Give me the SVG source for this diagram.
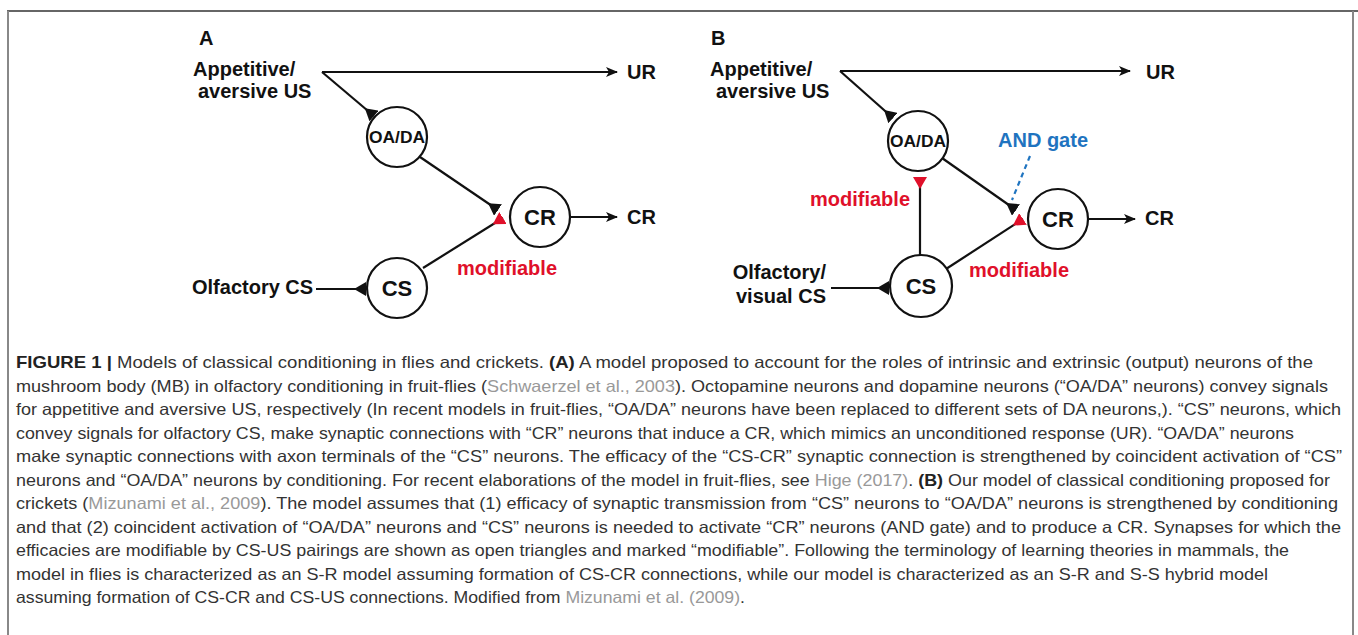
<svg xmlns="http://www.w3.org/2000/svg" width="1358" height="635" viewBox="0 0 1358 635">
<style>
.lbl{font-family:"Liberation Sans",Arial,sans-serif;font-weight:bold;font-size:20px;fill:#111}
.red{fill:#e0102a}
.blue{fill:#1f74c0}
.node{fill:#fff;stroke:#111;stroke-width:2.2}
.ntx{font-family:"Liberation Sans",Arial,sans-serif;font-weight:bold;font-size:22px;fill:#111;text-anchor:middle}
.ln{stroke:#111;stroke-width:2.2;fill:none}
.cap{font-family:"Liberation Sans",Arial,sans-serif;font-size:16.5px;fill:#333}
.ref{fill:#999}
.b{font-weight:bold;fill:#222}
</style>
<defs>
<marker id="arr" viewBox="0 0 12 10" refX="11" refY="5" markerWidth="12" markerHeight="10" markerUnits="userSpaceOnUse" orient="auto">
<path d="M0,0 L12,5 L0,10 L3,5 z" fill="#111"/>
</marker>
<marker id="synK" viewBox="0 0 12 14" refX="12" refY="7" markerWidth="12" markerHeight="14" markerUnits="userSpaceOnUse" orient="auto">
<path d="M12,0 L12,14 L0,7 z" fill="#111"/>
</marker>
<marker id="synR" viewBox="0 0 12 14" refX="12" refY="7" markerWidth="12" markerHeight="14" markerUnits="userSpaceOnUse" orient="auto">
<path d="M12,0 L12,14 L0,7 z" fill="#e0102a"/>
</marker>
</defs>
<rect width="1358" height="635" fill="#fff"/>
<!-- frame -->
<line x1="7" y1="11" x2="1358" y2="11" stroke="#333" stroke-width="1.5"/>
<line x1="8" y1="11" x2="8" y2="635" stroke="#888" stroke-width="2"/>
<line x1="1353" y1="11" x2="1353" y2="635" stroke="#888" stroke-width="2"/>

<!-- Panel A labels -->
<text class="lbl" x="199" y="45">A</text>
<text class="lbl" x="193" y="76">Appetitive/</text>
<text class="lbl" x="198" y="98">aversive US</text>
<text class="lbl" x="627" y="79">UR</text>
<text class="lbl" x="627" y="224">CR</text>
<text class="lbl" x="192" y="294">Olfactory CS</text>
<text class="lbl red" x="457" y="275">modifiable</text>

<!-- Panel B labels -->
<text class="lbl" x="711" y="45">B</text>
<text class="lbl" x="710" y="76">Appetitive/</text>
<text class="lbl" x="716" y="98">aversive US</text>
<text class="lbl" x="1146" y="79">UR</text>
<text class="lbl" x="1145" y="225">CR</text>
<text class="lbl" x="826" y="279" text-anchor="end">Olfactory/</text>
<text class="lbl" x="826" y="303" text-anchor="end">visual CS</text>
<text class="lbl red" x="810" y="206">modifiable</text>
<text class="lbl red" x="969" y="277">modifiable</text>
<text class="lbl blue" x="998" y="147">AND gate</text>

<g id="connectors">
<!-- A -->
<path class="ln" d="M322,72 H617" marker-end="url(#arr)"/>
<path class="ln" d="M322,72 L374,116" marker-end="url(#synK)"/>
<path class="ln" d="M420,157 L498,210" marker-end="url(#synK)"/>
<path class="ln" d="M423,268 L503,218" marker-end="url(#synR)"/>
<path class="ln" d="M570,217 H617" marker-end="url(#arr)"/>
<path class="ln" d="M316,289 H366" marker-end="url(#synK)"/>
<!-- B -->
<path class="ln" d="M840,71 H1130" marker-end="url(#arr)"/>
<path class="ln" d="M840,71 L893,118" marker-end="url(#synK)"/>
<path class="ln" d="M942,158 L1016,210" marker-end="url(#synK)"/>
<path class="ln" d="M946,269 L1023,219" marker-end="url(#synR)"/>
<path class="ln" d="M920,255 V177" marker-end="url(#synR)"/>
<path class="ln" d="M1088,219 H1135" marker-end="url(#arr)"/>
<path class="ln" d="M831,288 H889" marker-end="url(#synK)"/>
<path d="M1030,156 L1012,200" stroke="#1f74c0" stroke-width="2.2" stroke-dasharray="5,4" fill="none"/>
</g>

<g id="nodeA-OADA"><circle class="node" cx="397" cy="137" r="30"/><text class="ntx" x="397" y="143" textLength="56" lengthAdjust="spacingAndGlyphs" style="font-size:16px">OA/DA</text></g>
<g id="nodeA-CR"><circle class="node" cx="540" cy="217" r="30"/><text class="ntx" x="540" y="225">CR</text></g>
<g id="nodeA-CS"><circle class="node" cx="397" cy="288" r="30"/><text class="ntx" x="397" y="296">CS</text></g>
<g id="nodeB-OADA"><circle class="node" cx="918" cy="141" r="30"/><text class="ntx" x="918" y="147" textLength="56" lengthAdjust="spacingAndGlyphs" style="font-size:16px">OA/DA</text></g>
<g id="nodeB-CR"><circle class="node" cx="1058" cy="219" r="30"/><text class="ntx" x="1058" y="227">CR</text></g>
<g id="nodeB-CS"><circle class="node" cx="921" cy="286" r="31"/><text class="ntx" x="921" y="294">CS</text></g>

<!-- caption -->
<g id="caption" class="cap">
<text x="16" y="368" textLength="1297" lengthAdjust="spacingAndGlyphs"><tspan class="b">FIGURE 1 |</tspan> Models of classical conditioning in flies and crickets. <tspan class="b">(A)</tspan> A model proposed to account for the roles of intrinsic and extrinsic (output) neurons of the</text>
<text x="16" y="391.5" textLength="1312" lengthAdjust="spacingAndGlyphs">mushroom body (MB) in olfactory conditioning in fruit-flies (<tspan class="ref">Schwaerzel et al., 2003</tspan>). Octopamine neurons and dopamine neurons (“OA/DA” neurons) convey signals</text>
<text x="16" y="415" textLength="1325" lengthAdjust="spacingAndGlyphs">for appetitive and aversive US, respectively (In recent models in fruit-flies, “OA/DA” neurons have been replaced to different sets of DA neurons,). “CS” neurons, which</text>
<text x="16" y="438.5" textLength="1278" lengthAdjust="spacingAndGlyphs">convey signals for olfactory CS, make synaptic connections with “CR” neurons that induce a CR, which mimics an unconditioned response (UR). “OA/DA” neurons</text>
<text x="16" y="462" textLength="1326" lengthAdjust="spacingAndGlyphs">make synaptic connections with axon terminals of the “CS” neurons. The efficacy of the “CS-CR” synaptic connection is strengthened by coincident activation of “CS”</text>
<text x="16" y="485.5" textLength="1314" lengthAdjust="spacingAndGlyphs">neurons and “OA/DA” neurons by conditioning. For recent elaborations of the model in fruit-flies, see <tspan class="ref">Hige (2017)</tspan>. <tspan class="b">(B)</tspan> Our model of classical conditioning proposed for</text>
<text x="16" y="509" textLength="1322" lengthAdjust="spacingAndGlyphs">crickets (<tspan class="ref">Mizunami et al., 2009</tspan>). The model assumes that (1) efficacy of synaptic transmission from “CS” neurons to “OA/DA” neurons is strengthened by conditioning</text>
<text x="16" y="532.5" textLength="1325" lengthAdjust="spacingAndGlyphs">and that (2) coincident activation of “OA/DA” neurons and “CS” neurons is needed to activate “CR” neurons (AND gate) and to produce a CR. Synapses for which the</text>
<text x="16" y="556" textLength="1273" lengthAdjust="spacingAndGlyphs">efficacies are modifiable by CS-US pairings are shown as open triangles and marked “modifiable”. Following the terminology of learning theories in mammals, the</text>
<text x="16" y="579.5" textLength="1252" lengthAdjust="spacingAndGlyphs">model in flies is characterized as an S-R model assuming formation of CS-CR connections, while our model is characterized as an S-R and S-S hybrid model</text>
<text x="16" y="603" textLength="729" lengthAdjust="spacingAndGlyphs">assuming formation of CS-CR and CS-US connections. Modified from <tspan class="ref">Mizunami et al. (2009)</tspan>.</text>
</g>
</svg>
